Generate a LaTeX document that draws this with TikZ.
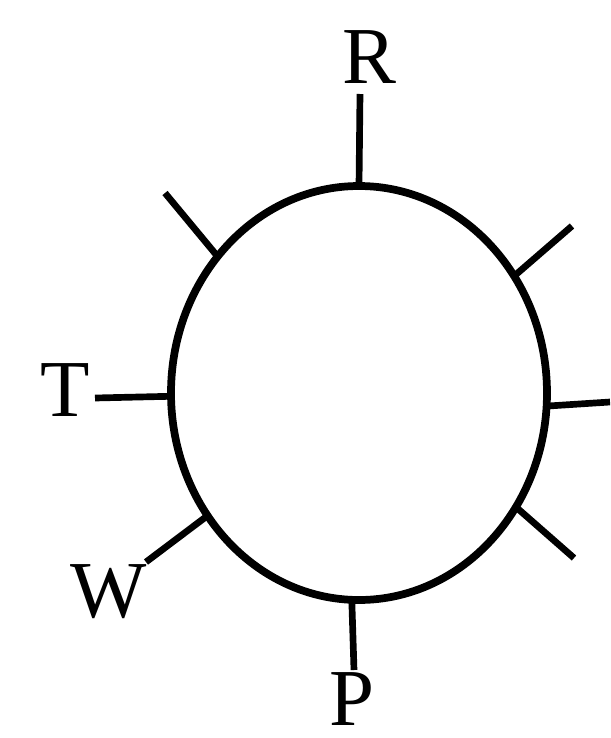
\documentclass[tikz,border=0pt]{standalone}
\usepackage{fontspec}
\setmainfont{Liberation Serif}
\usetikzlibrary{shapes.geometric}

\begin{document}
\begin{tikzpicture}[
  x=0.1mm, y=-0.1mm,
  cellbody/.style={ellipse, draw, line width=2.2pt, inner sep=0pt,
             outer sep=0pt, minimum width=37.6mm, minimum height=41.4mm},
  spoke/.style={line width=1.9pt},
  lbl/.style={inner sep=0pt, font=\fontsize{23}{28}\selectfont}
]
\useasboundingbox (0,0) rectangle (610,738);

% The cell
\node[cellbody] (cell) at (359,393) {};

% Free ends of the spokes
\coordinate (rEnd)  at (360,94);
\coordinate (ulEnd) at (165,193);
\coordinate (urEnd) at (572,226);
\coordinate (eEnd)  at (610,402);
\coordinate (tEnd)  at (95,398);
\coordinate (wEnd)  at (146,562);
\coordinate (lrEnd) at (574,558);
\coordinate (pEnd)  at (354,670);

% Labels
\node[lbl] (R) at (369,57)  {R};
\node[lbl] (T) at (65,390)  {T};
\node[lbl] (W) at (109,592) {W};
\node[lbl] (P) at (352,699) {P};

% Spokes
\draw[spoke] (cell.90)    -- (rEnd);
\draw[spoke] (cell.136)   -- (ulEnd);
\draw[spoke] (cell.37.6)  -- (urEnd);
\draw[spoke] (cell.-4.8)  -- (eEnd);
\draw[spoke] (cell.181.5) -- (tEnd);
\draw[spoke] (cell.219)   -- (wEnd);
\draw[spoke] (cell.-36.6) -- (lrEnd);
\draw[spoke] (cell.268.6) -- (pEnd);
\end{tikzpicture}
\end{document}
